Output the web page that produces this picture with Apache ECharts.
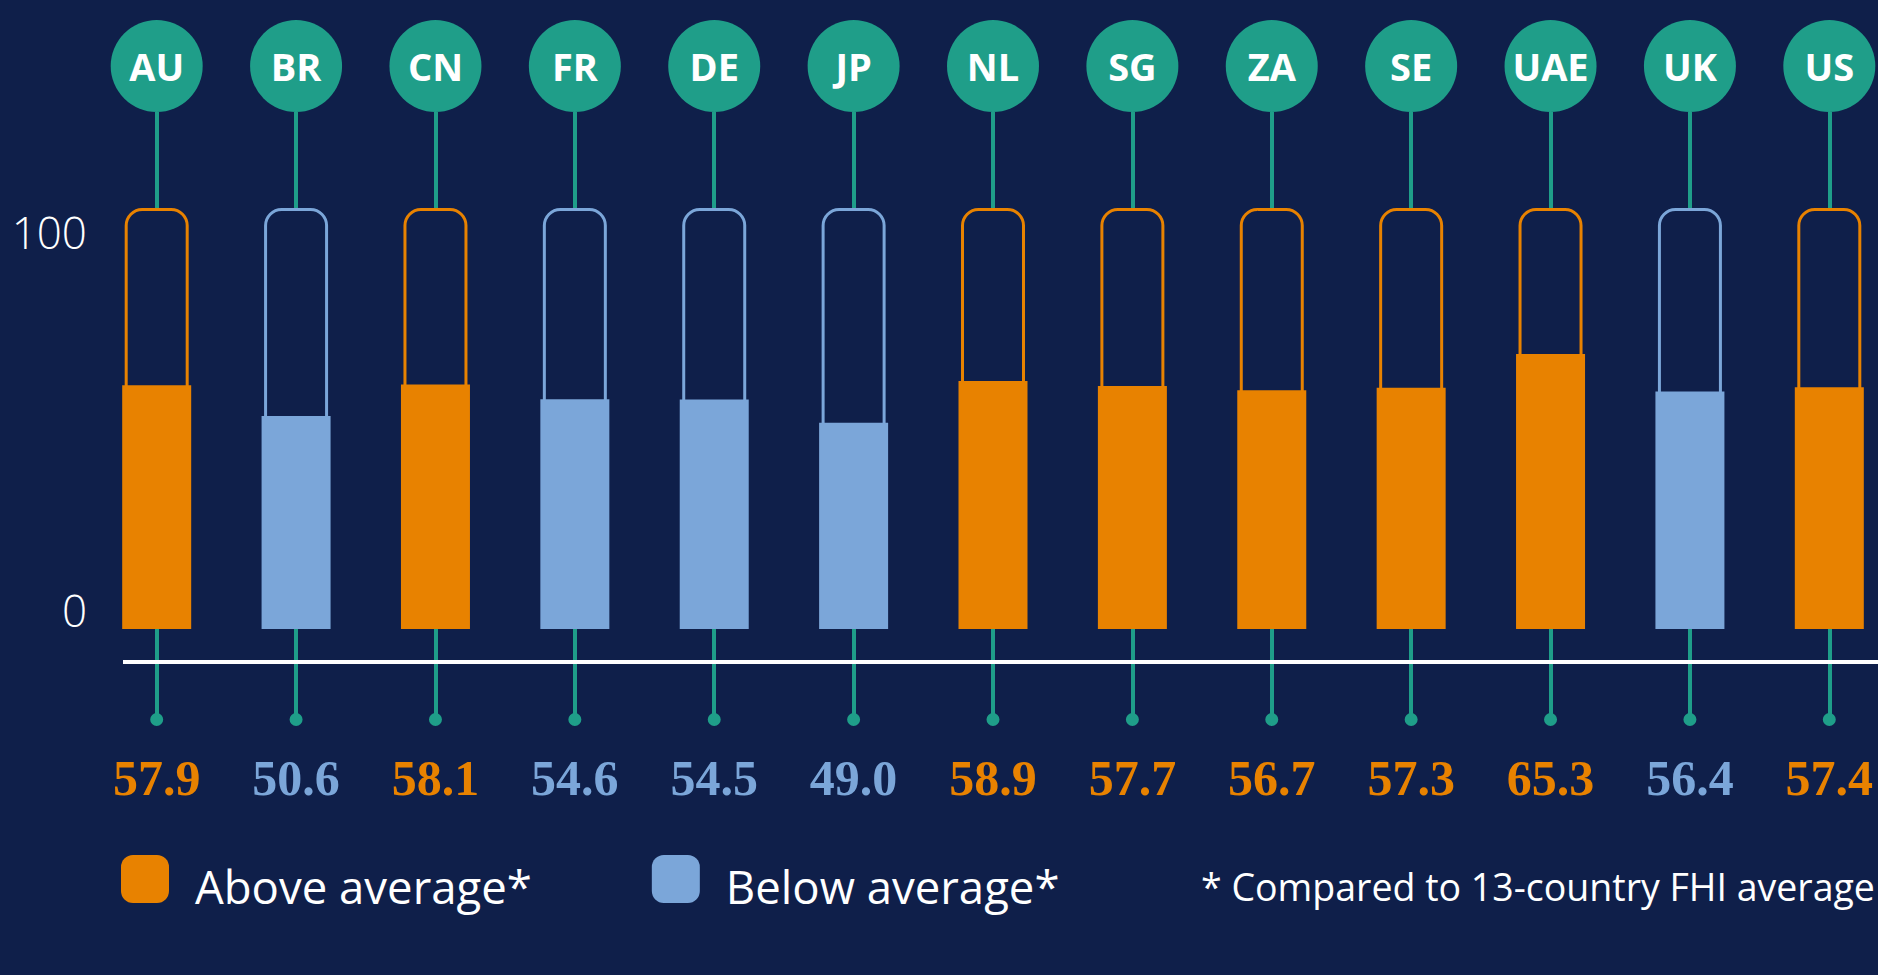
<!DOCTYPE html>
<html>
<head>
<meta charset="utf-8">
<script src="https://cdn.jsdelivr.net/npm/echarts@6/dist/echarts.min.js"></script>
<style>
  html, body { margin: 0; padding: 0; background: #0f1f4a; }
  #chart { width: 1878px; height: 975px; }
</style>
</head>
<body>
<div id="chart"></div>
<script>
// FHI score per country
const countries = ["AU", "BR", "CN", "FR", "DE", "JP", "NL", "SG", "ZA", "SE", "UAE", "UK", "US"];
const scores = [57.9, 50.6, 58.1, 54.6, 54.5, 49.0, 58.9, 57.7, 56.7, 57.3, 65.3, 56.4, 57.4];
const yTicks = [0, 100];

const ORANGE = "#e88200";
const BLUE = "#7ba6d9";
const TEAL = "#1f9e89";
const NAVY = "#0f1f4a";

// 13-country average
const avg = scores.reduce((a, b) => a + b, 0) / scores.length;
const isAbove = scores.map(v => v > avg);

const chart = echarts.init(document.getElementById("chart"), null, { renderer: "svg" });

const option = {
  backgroundColor: NAVY,
  animation: false,
  title: {
    text: "* Compared to 13-country FHI average",
    left: 1201,
    top: 867,
    padding: 0,
    textStyle: { color: "#ffffff", fontSize: 37.5, fontWeight: "normal", fontFamily: "Open Sans" }
  },
  legend: {
    left: 121,
    top: 855,
    padding: 0,
    itemWidth: 48,
    itemHeight: 48,
    itemGap: 120,
    icon: "roundRect",
    selectedMode: false,
    data: ["Above average*", "Below average*"],
    formatter: name => "{t|" + name + "}",
    textStyle: {
      color: "#ffffff",
      fontSize: 45.5,
      fontFamily: "Open Sans",
      rich: {
        t: { color: "#ffffff", fontSize: 45.5, fontFamily: "Open Sans", padding: [14, 0, 0, 21] }
      }
    }
  },
  grid: { left: 87, top: 208, width: 1812, height: 421, outerBoundsMode: "none" },
  xAxis: [
    {
      // country bubbles on top
      type: "category",
      position: "top",
      data: countries,
      axisLine: { show: false, onZero: false },
      axisTick: { show: true, alignWithLabel: true, length: 96, lineStyle: { color: TEAL, width: 4 } },
      axisLabel: {
        margin: 96,
        interval: 0,
        formatter: v => "{c|" + v + "}",
        rich: {
          c: {
            width: 92, height: 92, lineHeight: 92, borderRadius: 46,
            backgroundColor: TEAL, align: "center",
            color: "#ffffff", fontSize: 38, fontWeight: "bold", fontFamily: "Open Sans"
          }
        }
      }
    },
    {
      // stems + dots below the bars
      type: "category",
      position: "bottom",
      data: countries,
      axisLine: { show: false, onZero: false },
      axisTick: { show: true, alignWithLabel: true, length: 91, lineStyle: { color: TEAL, width: 4 } },
      axisLabel: {
        margin: 84,
        interval: 0,
        formatter: () => "{d| }",
        rich: { d: { width: 13, height: 13, borderRadius: 6.5, backgroundColor: TEAL, fontSize: 2 } }
      }
    },
    {
      // score labels
      type: "category",
      position: "bottom",
      data: scores.map(v => v.toFixed(1)),
      axisLine: { show: false, onZero: false },
      axisTick: { show: false },
      axisLabel: {
        margin: 124,
        interval: 0,
        formatter: (v, i) => (isAbove[i] ? "{a|" : "{b|") + v + "}",
        rich: {
          a: { color: ORANGE, fontSize: 50, fontWeight: "bold", fontFamily: "Liberation Serif" },
          b: { color: BLUE, fontSize: 50, fontWeight: "bold", fontFamily: "Liberation Serif" }
        }
      }
    }
  ],
  yAxis: {
    type: "value",
    min: yTicks[0],
    max: yTicks[1],
    interval: 100,
    axisLine: { show: false },
    axisTick: { show: false },
    splitLine: { show: false },
    axisLabel: {
      margin: 0,
      formatter: v => (v === yTicks[1] ? "{hi|" + v + "}" : "{lo|" + v + "}"),
      rich: {
        hi: { color: "#ffffff", fontSize: 44, fontFamily: "Open Sans", fontWeight: 300, padding: [48, 0, 0, 0] },
        lo: { color: "#ffffff", fontSize: 44, fontFamily: "Open Sans", fontWeight: 300, padding: [0, 0, 38, 0] }
      }
    }
  },
  series: [
    {
      name: "frame",
      type: "bar",
      xAxisIndex: 0,
      barWidth: 64,
      z: 2,
      silent: true,
      data: countries.map((c, i) => ({
        value: yTicks[1],
        itemStyle: {
          color: NAVY,
          borderColor: isAbove[i] ? ORANGE : BLUE,
          borderWidth: 3,
          borderRadius: [16, 16, 0, 0]
        }
      }))
    },
    {
      name: "Above average*",
      type: "bar",
      xAxisIndex: 1,
      stack: "fhi",
      barWidth: 69,
      z: 3,
      itemStyle: { color: ORANGE },
      data: scores.map((v, i) => (isAbove[i] ? v : "-"))
    },
    {
      name: "Below average*",
      type: "bar",
      xAxisIndex: 1,
      stack: "fhi",
      barWidth: 69,
      z: 3,
      itemStyle: { color: BLUE },
      data: scores.map((v, i) => (isAbove[i] ? "-" : v))
    }
  ],
  graphic: [
    {
      type: "line",
      z: 10,
      shape: { x1: 123, y1: 662, x2: 1878, y2: 662 },
      style: { stroke: "#ffffff", lineWidth: 4 }
    }
  ]
};

chart.setOption(option);
</script>
</body>
</html>
